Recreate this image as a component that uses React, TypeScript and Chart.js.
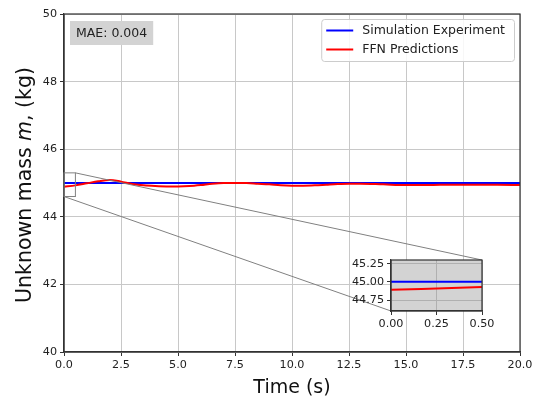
import React, { useEffect, useRef } from "react";
import { Chart, registerables } from "chart.js";

Chart.register(...registerables);

const FONT = "'DejaVu Sans', 'Liberation Sans', sans-serif";

// ---- data ----
const timeS = [0, 0.5, 1, 1.5, 2, 2.5, 3, 3.5, 4, 4.5, 5, 5.5, 6, 6.5, 7, 7.5, 8, 8.5, 9, 9.5, 10, 10.5, 11, 11.5, 12, 12.5, 13, 14, 15, 16, 17, 18, 19, 20];
const simulationMass = [45.0, 45.0, 45.0, 45.0, 45.0, 45.0, 45.0, 45.0, 45.0, 45.0, 45.0, 45.0, 45.0, 45.0, 45.0, 45.0, 45.0, 45.0, 45.0, 45.0, 45.0, 45.0, 45.0, 45.0, 45.0, 45.0, 45.0, 45.0, 45.0, 45.0, 45.0, 45.0, 45.0, 45.0];
const ffnMass = [44.89, 44.93, 44.99, 45.05, 45.09, 45.04, 44.97, 44.93, 44.91, 44.9, 44.9, 44.91, 44.94, 44.98, 45.0, 45.0, 45.0, 44.98, 44.96, 44.93, 44.92, 44.92, 44.93, 44.95, 44.97, 44.98, 44.98, 44.96, 44.94, 44.94, 44.95, 44.95, 44.95, 44.94];

const seriesNames = ["Simulation Experiment", "FFN Predictions"];
const seriesColors = ["#0000ff", "#ff0000"];

const xRange = [0, 20];
const xTickStep = 2.5;
const yRange = [40, 50];
const yTickStep = 2;

const insetXRange = [0, 0.5];
const insetYRange = [44.6, 45.3];
const insetXTicks = [0, 0.25, 0.5];
const insetYTicks = [44.75, 45.0, 45.25];

const maeLabel = "MAE: 0.004";
const xTitle = "Time (s)";
const yTitleParts = [
  { text: "Unknown mass ", italic: false },
  { text: "m", italic: true },
  { text: ", (kg)", italic: false },
];

// inset placement (layout, pixels)
const INSET = { left: 391, top: 260, right: 482, bottom: 311 };

const pts = (ys: number[]) => timeS.map((t, i) => ({ x: t, y: ys[i] }));

const datasets = () => [
  {
    label: seriesNames[0],
    data: pts(simulationMass),
    borderColor: seriesColors[0],
    borderWidth: 2,
    pointRadius: 0,
    tension: 0,
    order: 1,
  },
  {
    label: seriesNames[1],
    data: pts(ffnMass),
    borderColor: seriesColors[1],
    borderWidth: 2,
    pointRadius: 0,
    cubicInterpolationMode: "monotone" as const,
    order: 0,
  },
];

const mainDecor = {
  id: "mainDecor",
  afterDraw(chart: any) {
    const { ctx, chartArea: a, scales } = chart;
    const xs = scales.x;
    const ys = scales.y;
    ctx.save();
    // frame
    ctx.strokeStyle = "#333";
    ctx.lineWidth = 1.2;
    ctx.strokeRect(a.left, a.top, a.right - a.left, a.bottom - a.top);

    // zoom box + connectors
    const bx0 = xs.getPixelForValue(insetXRange[0]);
    const bx1 = xs.getPixelForValue(insetXRange[1]);
    const by0 = ys.getPixelForValue(insetYRange[1]);
    const by1 = ys.getPixelForValue(insetYRange[0]);
    ctx.strokeStyle = "#808080";
    ctx.lineWidth = 1;
    ctx.strokeRect(bx0, by0, bx1 - bx0, by1 - by0);
    ctx.beginPath();
    ctx.moveTo(bx1, by0);
    ctx.lineTo(INSET.right, INSET.top);
    ctx.moveTo(bx0, by1);
    ctx.lineTo(INSET.left, INSET.bottom);
    ctx.stroke();

    // MAE box
    ctx.font = `12.5px ${FONT}`;
    const mw = ctx.measureText(maeLabel).width;
    const mx = a.left + 6;
    const my = a.top + 7;
    ctx.fillStyle = "#d3d3d3";
    ctx.fillRect(mx, my, mw + 12, 24);
    ctx.fillStyle = "#222";
    ctx.textBaseline = "middle";
    ctx.textAlign = "left";
    ctx.fillText(maeLabel, mx + 6, my + 12.5);

    // legend
    ctx.font = `12.5px ${FONT}`;
    const tw = Math.max(...seriesNames.map((n) => ctx.measureText(n).width));
    const lw = 27 + 9 + tw + 9 + 5;
    const lx = a.right - 6 - lw;
    const ly = a.top + 5;
    const lh = 42;
    ctx.fillStyle = "rgba(255,255,255,0.85)";
    ctx.strokeStyle = "#cccccc";
    ctx.lineWidth = 1;
    ctx.beginPath();
    (ctx as any).roundRect(lx + 0.5, ly + 0.5, lw, lh, 3);
    ctx.fill();
    ctx.stroke();
    seriesNames.forEach((n, i) => {
      const yy = ly + 11.5 + i * 19;
      ctx.strokeStyle = seriesColors[i];
      ctx.lineWidth = 2;
      ctx.beginPath();
      ctx.moveTo(lx + 5, yy);
      ctx.lineTo(lx + 32, yy);
      ctx.stroke();
      ctx.fillStyle = "#222";
      ctx.textBaseline = "middle";
      ctx.fillText(n, lx + 41, yy + 0.5);
    });

    // x title
    ctx.font = `19px ${FONT}`;
    ctx.fillStyle = "#111";
    ctx.textAlign = "center";
    ctx.textBaseline = "alphabetic";
    ctx.fillText(xTitle, (a.left + a.right) / 2, 393);

    // y title (mixed italic)
    ctx.translate(31, (a.top + a.bottom) / 2 + 2);
    ctx.rotate(-Math.PI / 2);
    ctx.textAlign = "left";
    const fontFor = (it: boolean) => `${it ? "italic " : ""}20.5px ${FONT}`;
    let total = 0;
    yTitleParts.forEach((p) => {
      ctx.font = fontFor(p.italic);
      total += ctx.measureText(p.text).width;
    });
    let cx = -total / 2;
    yTitleParts.forEach((p) => {
      ctx.font = fontFor(p.italic);
      ctx.fillText(p.text, cx, 0);
      cx += ctx.measureText(p.text).width;
    });
    ctx.restore();
  },
};

const insetDecor = {
  id: "insetDecor",
  beforeDraw(chart: any) {
    const { ctx, chartArea: a } = chart;
    ctx.save();
    ctx.fillStyle = "#d3d3d3";
    ctx.fillRect(a.left, a.top, a.right - a.left, a.bottom - a.top);
    ctx.restore();
  },
  afterDraw(chart: any) {
    const { ctx, chartArea: a } = chart;
    ctx.save();
    ctx.strokeStyle = "#333";
    ctx.lineWidth = 1.2;
    ctx.strokeRect(a.left, a.top, a.right - a.left, a.bottom - a.top);
    ctx.restore();
  },
};

export default function App() {
  const mainRef = useRef<HTMLCanvasElement | null>(null);
  const insetRef = useRef<HTMLCanvasElement | null>(null);

  useEffect(() => {
    Chart.defaults.font.family = FONT;
    const tickFont = { size: 11.2, family: FONT };
    const main = new Chart(mainRef.current!, {
      type: "line",
      data: { datasets: datasets() as any },
      options: {
        responsive: false,
        animation: false,
        layout: { padding: { top: 14, right: 21, left: 0, bottom: 0 } },
        plugins: { legend: { display: false }, tooltip: { enabled: false } },
        scales: {
          x: {
            type: "linear",
            min: xRange[0],
            max: xRange[1],
            ticks: {
              stepSize: xTickStep,
              font: tickFont,
              color: "#222",
              padding: 2,
              maxRotation: 0,
              callback: (v: any) => Number(v).toFixed(1),
            },
            grid: { color: "#c8c8c8", tickColor: "#333", tickLength: 4, lineWidth: 1 },
            border: { color: "#333", width: 1.2 },
            afterFit: (s: any) => {
              s.height = 50;
            },
          },
          y: {
            type: "linear",
            min: yRange[0],
            max: yRange[1],
            ticks: {
              stepSize: yTickStep,
              font: tickFont,
              color: "#222",
              padding: 3,
              callback: (v: any) => String(v),
            },
            grid: { color: "#c8c8c8", tickColor: "#333", tickLength: 4, lineWidth: 1 },
            border: { color: "#333", width: 1.2 },
            afterFit: (s: any) => {
              s.width = 64;
            },
          },
        },
      },
      plugins: [mainDecor],
    });

    const inset = new Chart(insetRef.current!, {
      type: "line",
      data: { datasets: datasets() as any },
      options: {
        responsive: false,
        animation: false,
        layout: {
          padding: {
            top: INSET.top,
            left: INSET.left - 44,
            right: 541 - INSET.right,
            bottom: 402 - INSET.bottom - 24,
          },
        },
        plugins: { legend: { display: false }, tooltip: { enabled: false } },
        scales: {
          x: {
            type: "linear",
            min: insetXRange[0],
            max: insetXRange[1],
            afterBuildTicks: (s: any) => {
              s.ticks = insetXTicks.map((v) => ({ value: v }));
            },
            ticks: {
              font: tickFont,
              color: "#222",
              padding: 2,
              maxRotation: 0,
              autoSkip: false,
              callback: (v: any) => Number(v).toFixed(2),
            },
            grid: { color: "#b0b0b0", tickColor: "#333", tickLength: 4 },
            border: { color: "#333", width: 1.2 },
            afterFit: (s: any) => {
              s.height = 24;
            },
          },
          y: {
            type: "linear",
            min: insetYRange[0],
            max: insetYRange[1],
            afterBuildTicks: (s: any) => {
              s.ticks = insetYTicks.map((v) => ({ value: v }));
            },
            ticks: {
              font: tickFont,
              color: "#222",
              padding: 3,
              autoSkip: false,
              callback: (v: any) => Number(v).toFixed(2),
            },
            grid: { color: "#b0b0b0", tickColor: "#333", tickLength: 4 },
            border: { color: "#333", width: 1.2 },
            afterFit: (s: any) => {
              s.width = 44;
            },
          },
        },
      },
      plugins: [insetDecor],
    });

    return () => {
      main.destroy();
      inset.destroy();
    };
  }, []);

  return (
    <div style={{ position: "fixed", left: 0, top: 0, width: 541, height: 402, background: "#fff" }}>
      <canvas ref={mainRef} width={541} height={402} style={{ position: "absolute", left: 0, top: 0 }} />
      <canvas
        ref={insetRef}
        width={541}
        height={402}
        style={{ position: "absolute", left: 0, top: 0, pointerEvents: "none" }}
      />
    </div>
  );
}
